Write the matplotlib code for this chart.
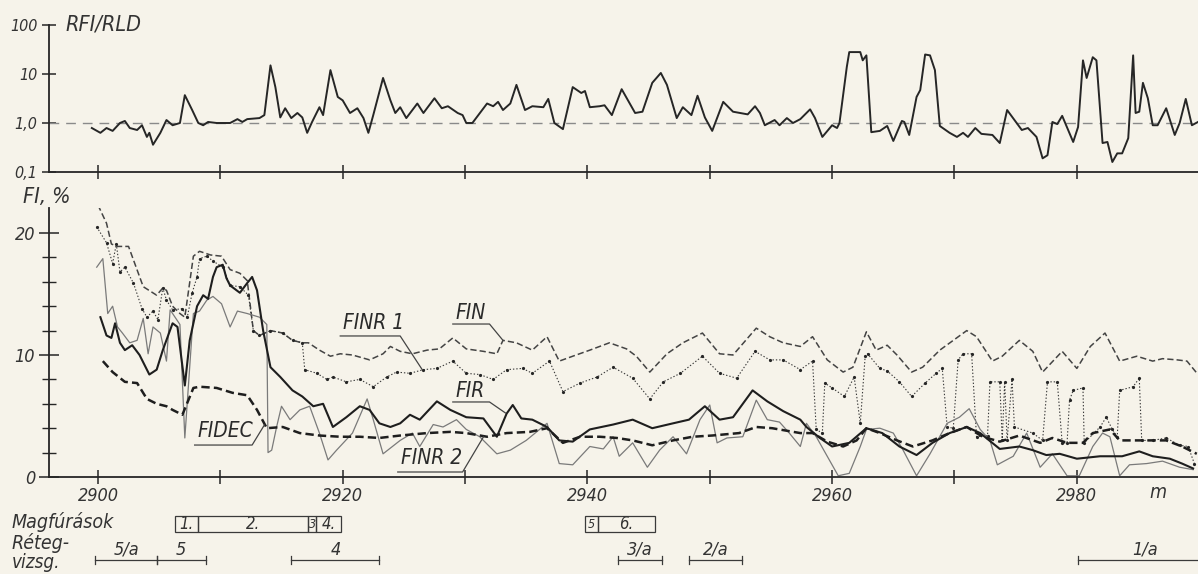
#!/usr/bin/env python3
"""
Well log sheet: RFI/RLD ratio (top) and porosity curves FI, % (bottom)
with core and formation test intervals underneath.
"""

import matplotlib
matplotlib.use('Agg')
import matplotlib.pyplot as plt
from matplotlib.patches import Rectangle
from matplotlib import transforms

# ---- top panel: RFI/RLD ratio ----
ratio_depth = [2899.5, 2900.2, 2900.7, 2901.2, 2901.8, 2902.2, 2902.6, 2903.2, 2903.6, 2904.0,
               2904.2, 2904.5, 2905.1, 2905.6, 2906.1, 2906.7, 2907.1, 2907.7, 2908.2, 2908.6,
               2909.0, 2909.7, 2910.8, 2911.4, 2911.8, 2912.2, 2913.2, 2913.6, 2914.1, 2914.5,
               2914.9, 2915.3, 2915.8, 2916.3, 2916.7, 2917.1, 2917.5, 2918.1, 2918.4, 2919.0,
               2919.6, 2920.0, 2920.6, 2921.2, 2921.7, 2922.1, 2922.5, 2923.3, 2923.9, 2924.3,
               2924.7, 2925.2, 2926.1, 2926.6, 2927.5, 2928.1, 2928.6, 2929.4, 2929.8, 2930.1,
               2930.6, 2931.8, 2932.3, 2932.7, 2933.1, 2933.7, 2934.2, 2934.9, 2935.5, 2936.4,
               2936.8, 2937.3, 2938.0, 2938.8, 2939.5, 2939.8, 2940.2, 2941.0, 2941.4, 2942.0,
               2942.8, 2943.9, 2944.5, 2945.3, 2946.0, 2946.5, 2947.3, 2947.8, 2948.5, 2949.0,
               2949.6, 2950.2, 2951.1, 2951.9, 2953.1, 2953.7, 2954.1, 2954.5, 2955.3, 2955.7,
               2956.3, 2956.8, 2957.4, 2958.2, 2958.6, 2959.2, 2960.0, 2960.4, 2960.6, 2961.2,
               2961.4, 2962.3, 2962.5, 2962.8, 2963.2, 2963.9, 2964.5, 2965.0, 2965.7, 2965.9,
               2966.3, 2966.9, 2967.2, 2967.6, 2968.0, 2968.4, 2968.8, 2969.6, 2970.2, 2970.7,
               2971.1, 2971.7, 2972.2, 2973.1, 2973.7, 2974.3, 2975.5, 2976.0, 2976.7, 2977.2,
               2977.6, 2978.0, 2978.4, 2978.8, 2979.7, 2980.1, 2980.5, 2980.8, 2981.3, 2981.6,
               2982.1, 2982.5, 2982.9, 2983.3, 2983.7, 2984.2, 2984.6, 2984.8, 2985.1, 2985.4,
               2985.8, 2986.2, 2986.6, 2987.3, 2988.0, 2988.4, 2988.9, 2989.4, 2989.9]
ratio_value = [0.79, 0.63, 0.79, 0.69, 1.0, 1.1, 0.79, 0.72, 0.9, 0.52,
               0.63, 0.36, 0.63, 1.15, 0.9, 1.0, 3.7, 1.84, 1.0, 0.9,
               1.05, 1.0, 1.0, 1.2, 1.05, 1.2, 1.26, 1.45, 15, 5.4,
               1.3, 2.0, 1.26, 1.6, 1.3, 0.63, 1.05, 2.1, 1.45, 12,
               3.4, 2.9, 1.6, 2.0, 1.26, 0.63, 1.45, 8.3, 2.9, 1.6,
               2.1, 1.26, 2.5, 1.6, 3.2, 2.0, 2.2, 1.6, 1.45, 1.0,
               1.0, 2.5, 2.2, 2.7, 1.84, 2.5, 6.0, 1.84, 2.2, 2.1,
               3.1, 1.0, 0.75, 5.4, 4.1, 4.5, 2.1, 2.2, 2.3, 1.45,
               4.9, 1.6, 1.7, 6.6, 10.5, 6.0, 1.26, 2.1, 1.45, 3.6,
               1.3, 0.69, 2.7, 1.7, 1.5, 2.2, 1.6, 0.9, 1.15, 0.9,
               1.26, 1.0, 1.2, 1.9, 1.26, 0.52, 0.9, 0.79, 1.0, 14,
               28, 28, 19, 24, 0.65, 0.69, 0.87, 0.43, 1.1, 1.05,
               0.57, 3.4, 4.7, 25, 24, 12, 0.87, 0.63, 0.52, 0.63,
               0.52, 0.79, 0.6, 0.57, 0.39, 1.84, 0.72, 0.79, 0.52, 0.19,
               0.22, 1.05, 0.95, 1.4, 0.41, 0.83, 19, 8.3, 22, 19,
               0.39, 0.41, 0.16, 0.24, 0.24, 0.49, 24, 1.6, 1.7, 6.6,
               3.2, 0.9, 0.9, 2.0, 0.57, 1.0, 3.1, 0.9, 1.05]

# ---- bottom panel: porosity curves, FI % ----
fin_depth = [2900.0, 2900.7, 2901.1, 2901.6, 2902.5, 2902.9, 2903.7, 2904.8, 2905.3, 2905.6,
             2906.1, 2906.7, 2907.1, 2907.8, 2908.3, 2909.2, 2910.1, 2910.8, 2911.6, 2912.2,
             2912.7, 2913.2, 2914.1, 2915.1, 2915.9, 2916.7, 2917.2, 2918.1, 2919.0, 2919.8,
             2920.8, 2922.2, 2923.3, 2923.9, 2924.7, 2925.7, 2926.9, 2927.9, 2929.0, 2930.1,
             2931.5, 2932.6, 2933.1, 2934.2, 2935.5, 2936.7, 2937.7, 2938.8, 2940.2, 2941.8,
             2943.2, 2944.0, 2945.1, 2946.5, 2947.8, 2949.4, 2950.8, 2951.9, 2953.8, 2954.9,
             2956.0, 2957.4, 2958.4, 2959.6, 2960.9, 2961.7, 2962.8, 2963.6, 2964.5, 2965.3,
             2966.5, 2967.4, 2968.8, 2971.0, 2971.8, 2973.1, 2973.9, 2975.3, 2976.4, 2977.2,
             2978.8, 2980.0, 2981.1, 2982.3, 2983.5, 2984.9, 2986.2, 2987.0, 2988.2, 2989.0,
             2989.9]
fin_value = [22.3, 20.8, 19.1, 18.9, 18.9, 17.8, 15.6, 14.9, 15.5, 15.3,
             14.0, 13.4, 13.1, 18.1, 18.5, 18.2, 18.1, 17.0, 16.7, 16.1,
             12.0, 11.6, 12.0, 11.8, 11.2, 11.0, 11.0, 10.4, 9.9, 10.1,
             10.0, 9.6, 10.1, 10.7, 10.3, 10.1, 10.4, 10.5, 11.4, 10.5,
             10.3, 10.1, 11.2, 11.0, 10.4, 11.5, 9.5, 9.9, 10.4, 11.0,
             10.5, 9.9, 8.6, 10.1, 11.0, 11.8, 10.1, 10.0, 12.2, 11.5,
             11.0, 10.7, 11.5, 9.6, 8.6, 9.0, 11.9, 10.4, 10.8, 10.0,
             8.6, 9.0, 10.4, 12.0, 11.5, 9.5, 9.9, 11.2, 10.3, 8.6,
             10.3, 8.9, 10.7, 11.8, 9.5, 9.9, 9.5, 9.7, 9.6, 9.5,
             8.4]

finr1_depth = [2899.9, 2900.7, 2901.2, 2901.5, 2901.8, 2902.2, 2902.9, 2903.6, 2904.0, 2904.5,
               2904.9, 2905.3, 2905.6, 2906.1, 2906.9, 2907.3, 2907.7, 2908.1, 2908.3, 2908.9,
               2909.4, 2910.2, 2910.8, 2911.6, 2912.3, 2912.7, 2913.2, 2914.1, 2915.1, 2915.9,
               2916.7, 2916.9, 2917.9, 2918.7, 2919.2, 2920.3, 2921.4, 2922.5, 2923.6, 2924.4,
               2925.5, 2926.6, 2927.7, 2929.0, 2930.1, 2931.2, 2932.3, 2933.4, 2934.7, 2935.5,
               2936.9, 2938.0, 2939.4, 2940.8, 2942.1, 2943.7, 2945.1, 2946.2, 2947.6, 2949.4,
               2950.8, 2952.2, 2953.7, 2954.9, 2956.0, 2957.4, 2958.4, 2958.7, 2959.2, 2959.4,
               2960.0, 2961.0, 2961.8, 2962.3, 2962.7, 2962.9, 2963.9, 2964.5, 2965.5, 2966.5,
               2967.6, 2968.5, 2969.0, 2969.4, 2969.9, 2970.3, 2970.7, 2971.4, 2971.8, 2972.7,
               2972.9, 2973.7, 2973.9, 2974.1, 2974.3, 2974.7, 2974.9, 2976.4, 2977.2, 2977.6,
               2978.4, 2978.8, 2979.2, 2979.4, 2979.7, 2980.5, 2980.6, 2981.9, 2982.4, 2982.9,
               2983.3, 2983.5, 2984.6, 2985.1, 2985.3, 2986.2, 2987.3, 2988.4, 2989.1, 2989.6]
finr1_value = [20.5, 19.2, 17.5, 19.1, 16.8, 17.2, 15.9, 13.8, 13.1, 13.6,
               12.9, 15.5, 14.5, 13.7, 13.8, 13.1, 15.1, 16.4, 17.9, 18.1,
               17.7, 17.2, 15.7, 15.6, 14.9, 12.0, 11.6, 12.0, 11.8, 11.2,
               11.0, 8.8, 8.5, 8.0, 8.2, 7.8, 8.0, 7.4, 8.2, 8.6,
               8.5, 8.8, 8.9, 9.5, 8.5, 8.4, 8.0, 8.8, 8.9, 8.5,
               9.5, 7.0, 7.7, 8.2, 9.0, 8.1, 6.4, 7.8, 8.5, 9.9,
               8.5, 8.1, 10.3, 9.6, 9.6, 8.8, 9.5, 3.9, 3.6, 7.7,
               7.3, 6.6, 8.2, 4.4, 9.9, 10.1, 8.9, 8.7, 7.8, 6.6,
               7.7, 8.5, 8.9, 4.1, 4.0, 9.6, 10.1, 10.1, 3.3, 3.4,
               7.8, 7.8, 3.0, 7.8, 3.0, 8.0, 4.1, 3.6, 3.0, 7.8,
               7.8, 2.8, 2.8, 6.3, 7.1, 7.3, 2.8, 4.1, 4.9, 3.9,
               3.3, 7.1, 7.4, 8.1, 3.0, 3.0, 3.2, 2.6, 2.5, 1.1]

fir_depth = [2900.2, 2900.7, 2901.1, 2901.4, 2901.8, 2902.2, 2902.8, 2903.4, 2904.2, 2904.8,
             2905.3, 2906.1, 2906.5, 2907.1, 2907.5, 2908.1, 2908.6, 2909.0, 2909.4, 2909.7,
             2910.2, 2910.5, 2910.8, 2911.6, 2912.2, 2912.6, 2913.0, 2913.5, 2914.1, 2914.9,
             2915.9, 2916.7, 2917.6, 2918.4, 2919.2, 2920.3, 2921.4, 2922.2, 2923.0, 2923.9,
             2924.7, 2925.5, 2926.3, 2927.7, 2928.8, 2930.1, 2931.5, 2932.6, 2933.4, 2933.9,
             2934.6, 2935.5, 2936.7, 2937.7, 2938.8, 2940.2, 2942.1, 2943.7, 2945.3, 2947.0,
             2948.3, 2949.6, 2950.8, 2951.9, 2953.5, 2954.7, 2956.0, 2957.4, 2957.9, 2959.0,
             2960.0, 2961.4, 2962.8, 2964.1, 2965.5, 2966.9, 2968.2, 2969.6, 2971.0, 2972.1,
             2973.7, 2975.3, 2976.4, 2977.5, 2978.6, 2980.0, 2981.9, 2983.7, 2985.1, 2986.2,
             2987.6, 2988.6, 2989.5]
fir_value = [13.1, 11.6, 11.4, 12.6, 11.0, 10.4, 10.8, 10.0, 8.4, 8.8,
             10.4, 12.6, 12.3, 7.5, 11.2, 14.0, 14.9, 14.6, 16.4, 17.2,
             17.4, 16.3, 15.7, 15.1, 15.9, 16.4, 15.3, 12.0, 9.0, 8.2,
             7.1, 6.6, 5.8, 6.0, 4.1, 4.9, 5.8, 5.5, 4.4, 4.1,
             4.4, 5.1, 4.7, 6.2, 5.5, 4.9, 4.8, 3.3, 5.2, 5.9,
             4.8, 4.7, 4.1, 3.0, 2.9, 3.9, 4.3, 4.7, 4.0, 4.4,
             4.7, 5.8, 4.7, 4.9, 7.1, 6.2, 5.4, 4.7, 4.1, 3.2,
             2.5, 2.8, 4.0, 3.6, 2.5, 1.8, 2.8, 3.6, 4.1, 3.6,
             2.3, 2.5, 2.2, 1.8, 1.9, 1.5, 1.7, 1.7, 2.1, 1.7,
             1.5, 1.1, 0.7]

finr2_depth = [2899.9, 2900.4, 2900.8, 2901.2, 2901.6, 2902.0, 2902.6, 2903.2, 2903.7, 2904.1,
               2904.5, 2905.1, 2905.6, 2905.9, 2906.7, 2907.1, 2907.8, 2908.3, 2908.9, 2909.4,
               2910.1, 2910.8, 2911.4, 2912.2, 2913.2, 2913.8, 2913.9, 2914.2, 2914.6, 2915.0,
               2915.7, 2916.5, 2917.3, 2918.1, 2918.8, 2919.5, 2920.8, 2922.0, 2922.5, 2923.3,
               2924.7, 2925.7, 2926.3, 2927.4, 2928.2, 2929.3, 2930.1, 2931.2, 2932.6, 2933.7,
               2935.0, 2936.7, 2937.7, 2938.8, 2940.2, 2941.3, 2942.1, 2942.6, 2943.7, 2944.9,
               2945.9, 2947.0, 2948.1, 2949.2, 2950.0, 2950.6, 2951.4, 2952.7, 2953.8, 2954.7,
               2955.7, 2956.5, 2957.4, 2957.9, 2958.7, 2959.6, 2960.5, 2961.4, 2962.3, 2962.8,
               2963.9, 2965.0, 2965.8, 2966.9, 2968.0, 2969.4, 2970.4, 2971.2, 2972.1, 2972.9,
               2973.5, 2974.8, 2975.9, 2977.0, 2978.0, 2979.2, 2980.2, 2981.3, 2982.1, 2982.7,
               2983.5, 2984.3, 2985.7, 2987.0, 2988.4, 2989.5]
finr2_value = [17.2, 17.9, 13.4, 14.0, 12.3, 11.8, 11.0, 11.2, 13.0, 10.1,
               12.3, 11.8, 9.5, 13.7, 12.5, 3.2, 13.4, 13.6, 14.5, 14.8,
               14.2, 12.3, 13.6, 13.4, 13.1, 12.5, 2.0, 2.2, 4.1, 5.8,
               4.7, 5.5, 5.8, 3.6, 1.4, 2.2, 3.6, 6.4, 4.7, 1.9,
               3.0, 3.6, 2.5, 4.3, 4.1, 4.7, 3.9, 3.3, 1.9, 2.2,
               3.0, 4.4, 1.1, 1.0, 2.5, 2.3, 3.3, 1.7, 2.8, 0.8,
               2.2, 3.3, 1.9, 4.7, 5.9, 2.8, 3.2, 3.3, 6.3, 4.7,
               4.5, 3.6, 2.5, 4.4, 3.3, 1.7, 0.1, 0.3, 2.5, 3.9,
               4.0, 3.6, 2.2, 0.1, 1.9, 4.4, 4.9, 5.6, 3.9, 3.0,
               1.0, 1.7, 3.6, 0.8, 1.9, 0.1, 0.1, 2.5, 3.6, 3.3,
               0.1, 1.0, 1.1, 1.3, 0.8, 0.6]

fidec_depth = [2900.4, 2901.2, 2902.2, 2903.2, 2904.0, 2904.8, 2905.6, 2906.1, 2906.9, 2907.8,
               2908.3, 2909.7, 2911.0, 2912.2, 2913.0, 2913.8, 2915.1, 2916.5, 2918.1, 2919.8,
               2921.4, 2923.0, 2924.7, 2926.9, 2928.8, 2930.1, 2931.8, 2933.4, 2935.3, 2936.7,
               2938.0, 2939.4, 2941.0, 2942.4, 2943.7, 2945.3, 2947.0, 2948.6, 2950.2, 2952.4,
               2953.8, 2955.1, 2957.4, 2958.4, 2959.6, 2960.9, 2962.0, 2962.8, 2963.9, 2965.3,
               2966.6, 2968.2, 2969.6, 2971.0, 2972.3, 2973.7, 2975.3, 2977.0, 2978.0, 2979.2,
               2980.5, 2981.3, 2982.7, 2983.5, 2984.6, 2986.2, 2987.3, 2988.6, 2989.8]
fidec_value = [9.5, 8.6, 7.8, 7.7, 6.4, 6.0, 5.8, 5.5, 5.1, 7.3,
               7.4, 7.3, 6.9, 6.7, 5.5, 4.0, 4.1, 3.6, 3.4, 3.3,
               3.3, 3.2, 3.4, 3.6, 3.7, 3.6, 3.3, 3.6, 3.7, 4.0,
               2.8, 3.3, 3.3, 3.2, 3.0, 2.6, 3.0, 3.3, 3.4, 3.6,
               4.1, 4.0, 3.6, 3.6, 2.9, 2.5, 3.0, 4.0, 3.6, 3.0,
               2.5, 3.0, 3.6, 4.1, 3.3, 2.9, 3.4, 2.8, 3.2, 2.8,
               2.8, 3.6, 3.9, 3.0, 3.0, 3.0, 3.0, 2.5, 1.9]

# ---- cores (Magfúrások) and formation tests (Rétegvizsgálat) ----
core_names = ['1.', '2.', '3', '4.', '5', '6.']
core_from = [2906.3, 2908.2, 2917.2, 2917.8, 2939.8, 2940.9]
core_to = [2908.2, 2917.2, 2917.8, 2919.9, 2940.9, 2945.5]

test_names = ['5/a', '5', '4', '3/a', '2/a', '1/a']
test_from = [2899.8, 2904.8, 2915.8, 2942.5, 2948.3, 2980.1]
test_to = [2904.8, 2908.8, 2923.0, 2946.1, 2952.6, 2991.0]

W, H = 1198, 574
PAPER = '#f6f3ea'
INK = '#262626'
X0, X1 = 2896.0, 2989.9


def fx(px):
    return px / W


def fy(py):
    return 1 - py / H


def main():
    plt.rcParams['font.family'] = ['DejaVu Sans']
    plt.rcParams['font.stretch'] = 'condensed'
    plt.rcParams['font.style'] = 'italic'
    plt.rcParams['text.color'] = '#333333'
    plt.rcParams['lines.scale_dashes'] = False

    fig = plt.figure(figsize=(W / 100, H / 100), dpi=100, facecolor=PAPER)

    # top panel: ratio on log scale
    ax1 = fig.add_axes([fx(49), fy(172), fx(W) - fx(49), fy(25) - fy(172)])
    ax1.set_facecolor('none')
    ax1.set_yscale('log')
    ax1.set_ylim(0.1, 100)
    ax1.set_xlim(X0, X1)
    ax1.axhline(1.0, color='#8a8a8a', lw=1.0, dashes=(7, 5))
    ax1.plot(ratio_depth, ratio_value, color=INK, lw=1.4)
    ax1.set_yticks([0.1, 1, 10, 100])
    ax1.set_yticklabels(['0,1', '1,0', '10', '100'])
    ax1.minorticks_off()
    ax1.set_xticks(range(2900, 2990, 10))
    ax1.set_xticklabels([])
    ax1.tick_params(axis='both', direction='inout', length=10, width=1.1, colors=INK,
                    labelcolor='#333333')
    ax1.tick_params(axis='y', labelsize=11.5, pad=3.5)
    for s in ['top', 'right']:
        ax1.spines[s].set_visible(False)
    for s in ['left', 'bottom']:
        ax1.spines[s].set_color(INK)
        ax1.spines[s].set_linewidth(1.3)
    fig.text(fx(65), fy(25), 'RFI/RLD', fontsize=15.5, ha='left', va='center')

    # bottom panel: porosity
    ax2 = fig.add_axes([fx(49), fy(477), fx(W) - fx(49), fy(208) - fy(477)])
    ax2.set_facecolor('none')
    ax2.set_xlim(X0, X1)
    ax2.set_ylim(0, 22.05)
    ax2.plot(fin_depth, fin_value, color='#444444', lw=1.1, dashes=(4.5, 2.2))
    ax2.plot(finr1_depth, finr1_value, color='#3a3a3a', lw=0.8, dashes=(1, 1.4),
             marker='o', markersize=2.3, markerfacecolor=INK, markeredgewidth=0)
    ax2.plot(finr2_depth, finr2_value, color='#7a7a7a', lw=0.9)
    ax2.plot(fidec_depth, fidec_value, color='#1e1e1e', lw=1.8, dashes=(6, 3))
    ax2.plot(fir_depth, fir_value, color='#1e1e1e', lw=1.5)

    ax2.set_xticks(range(2900, 2990, 10))
    ax2.set_xticklabels([str(d) if d % 20 == 0 else '' for d in range(2900, 2990, 10)])
    ax2.set_yticks([0, 10, 20])
    ax2.set_yticks([2, 4, 6, 8, 12, 14, 16, 18], minor=True)
    ax2.tick_params(axis='x', direction='inout', length=10, width=1.1, colors=INK,
                    labelcolor='#333333', labelsize=13, pad=2)
    ax2.tick_params(axis='y', which='major', direction='inout', length=14, width=1.1,
                    colors=INK, labelcolor='#333333', labelsize=13, pad=3)
    ax2.tick_params(axis='y', which='minor', direction='inout', length=10, width=1.0,
                    colors=INK)
    for s in ['top', 'right']:
        ax2.spines[s].set_visible(False)
    for s in ['left', 'bottom']:
        ax2.spines[s].set_color(INK)
        ax2.spines[s].set_linewidth(1.3)
    fig.text(fx(23), fy(197), 'FI, %', fontsize=15.5, ha='left', va='center')
    fig.text(fx(1158), fy(492), 'm', fontsize=14, ha='center', va='center')

    # curve labels with underline and leader line
    labels = [
        ('FINR 1', 2920.0, 11.9, 2919.8, 2924.7, 11.56, 2926.5, 8.8),
        ('FIN', 2929.2, 12.7, 2929.0, 2932.0, 12.54, 2933.1, 11.2),
        ('FIR', 2929.2, 6.3, 2929.0, 2932.0, 6.15, 2933.3, 5.25),
        ('FINR 2', 2924.8, 0.82, 2924.5, 2929.8, 0.41, 2931.5, 3.28),
        ('FIDEC', 2908.1, 3.03, 2907.9, 2912.6, 2.62, 2913.6, 4.26),
    ]
    for name, tx, ty, ux0, ux1, uy, lx, ly in labels:
        ax2.text(tx, ty + 0.25, name, fontsize=15, ha='left', va='baseline', color='#2a2a2a')
        ax2.plot([ux0, ux1, lx], [uy, uy, ly], color='#444444', lw=0.9, clip_on=False)

    # strip under the log: cores and formation tests
    strip = transforms.blended_transform_factory(ax2.transData, fig.transFigure)
    fig.text(fx(12), fy(522), 'Magfúrások', fontsize=14, ha='left', va='center')
    fig.text(fx(12), fy(543), 'Réteg-', fontsize=14, ha='left', va='center')
    fig.text(fx(12), fy(562), 'vizsg.', fontsize=13.5, ha='left', va='center')

    for name, d0, d1 in zip(core_names, core_from, core_to):
        rect = Rectangle((d0, fy(532)), d1 - d0, fy(516) - fy(532), transform=strip,
                         fill=False, edgecolor='#3a3a3a', lw=0.9, clip_on=False)
        fig.add_artist(rect)
        fig.text((d0 + d1) / 2, fy(524), name, transform=strip, ha='center', va='center',
                 fontsize=9 if d1 - d0 < 1.2 else 12)

    for name, d0, d1 in zip(test_names, test_from, test_to):
        fig.add_artist(plt.Line2D([d0, d1], [fy(560), fy(560)], transform=strip,
                                  color='#3a3a3a', lw=0.9))
        for d in (d0, d1):
            fig.add_artist(plt.Line2D([d, d], [fy(556), fy(564)], transform=strip,
                                      color='#3a3a3a', lw=0.9))
        mid = (d0 + d1) / 2
        fig.text(mid, fy(550), name, transform=strip, ha='center', va='center', fontsize=13)

    plt.savefig('out.png', dpi=100, facecolor=PAPER)


if __name__ == "__main__":
    main()
